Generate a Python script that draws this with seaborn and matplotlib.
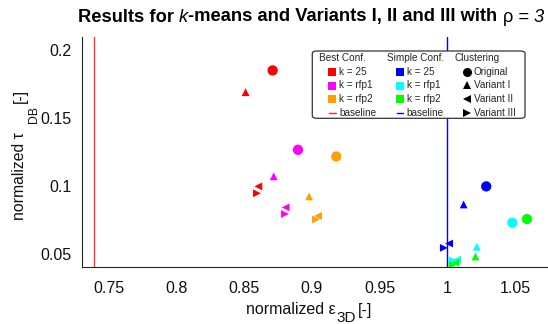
import numpy as np
import pandas as pd
import matplotlib
matplotlib.use("Agg")
import matplotlib.pyplot as plt
import seaborn as sns
from matplotlib.ticker import MultipleLocator, AutoMinorLocator
from matplotlib.patches import FancyBboxPatch, Rectangle
from matplotlib.lines import Line2D
from matplotlib.font_manager import FontProperties

# ---- data -------------------------------------------------------------
variants = ["Original", "Variant I", "Variant II", "Variant III"]
variant_markers = ["o", "^", "<", ">"]

configs = ["Best k = 25", "Best k = rfp1", "Best k = rfp2",
           "Simple k = 25", "Simple k = rfp1", "Simple k = rfp2"]
config_colors = ["#ff0000", "#ff00ff", "#ffa000",
                 "#0000ff", "#00ffff", "#00ff00"]

# normalized epsilon_3D (x) and tau_DB (y), ordered like `variants`
eps_best_k25 = [0.871, 0.851, 0.8604, 0.8594]
tau_best_k25 = [0.185, 0.169, 0.0996, 0.0945]
eps_best_rfp1 = [0.8897, 0.8718, 0.8806, 0.8801]
tau_best_rfp1 = [0.1265, 0.107, 0.0841, 0.0792]
eps_best_rfp2 = [0.918, 0.8979, 0.9045, 0.903]
tau_best_rfp2 = [0.1216, 0.0922, 0.0778, 0.0752]
eps_simple_k25 = [1.0287, 1.012, 1.0013, 0.9974]
tau_simple_k25 = [0.0996, 0.0863, 0.0575, 0.0543]
eps_simple_rfp1 = [1.048, 1.0218, 1.0072, 1.0038]
tau_simple_rfp1 = [0.0728, 0.0551, 0.0456, 0.0451]
eps_simple_rfp2 = [1.0588, 1.0208, 1.006, 1.0038]
tau_simple_rfp2 = [0.0755, 0.0479, 0.0434, 0.0417]

baseline_best = 0.739
baseline_simple = 1.0

eps_all = [eps_best_k25, eps_best_rfp1, eps_best_rfp2,
           eps_simple_k25, eps_simple_rfp1, eps_simple_rfp2]
tau_all = [tau_best_k25, tau_best_rfp1, tau_best_rfp2,
           tau_simple_k25, tau_simple_rfp1, tau_simple_rfp2]

rows = []
for cfg, ex, ty in zip(configs, eps_all, tau_all):
    for v, e, t in zip(variants, ex, ty):
        rows.append({"config": cfg, "variant": v, "eps": e, "tau": t})
df = pd.DataFrame(rows)

# ---- style ------------------------------------------------------------
sns.set_style("white")
FAMILY = ["Liberation Sans", "DejaVu Sans"]
plt.rcParams["font.family"] = FAMILY

W, H = 548, 324
fig = plt.figure(figsize=(W / 100, H / 100), dpi=100)
ax_l, ax_b, ax_t = 81.7, 267.3, 36.5
ax = fig.add_axes([ax_l / W, 1 - ax_b / H, 1 - ax_l / W, (ax_b - ax_t) / H])

palette = dict(zip(configs, config_colors))
marker_sizes = {"o": 55, "^": 32, "<": 32, ">": 32}

ax.axvline(baseline_best, color="#ff3030", lw=1.0, zorder=1)
ax.axvline(baseline_simple, color="#0000ff", lw=1.0, zorder=1)

for v, m in zip(variants, variant_markers):
    sub = df[df["variant"] == v]
    sns.scatterplot(data=sub, x="eps", y="tau", hue="config", palette=palette,
                    marker=m, s=marker_sizes[m], linewidth=0, legend=False,
                    ax=ax, zorder=3)

ax.set_xlim(0.73, 1.0743)
ax.set_ylim(0.04, 0.21)
ax.xaxis.set_major_locator(MultipleLocator(0.05))
ax.yaxis.set_major_locator(MultipleLocator(0.05))
ax.xaxis.set_minor_locator(AutoMinorLocator(4))
ax.yaxis.set_minor_locator(AutoMinorLocator(4))
ax.xaxis.set_major_formatter(plt.FuncFormatter(lambda v, p: f"{v:g}"))
ax.yaxis.set_major_formatter(plt.FuncFormatter(lambda v, p: f"{v:g}"))

for s in ("top", "right"):
    ax.spines[s].set_visible(False)
for s in ("left", "bottom"):
    ax.spines[s].set_color("#262626")
    ax.spines[s].set_linewidth(0.8)

ax.tick_params(which="major", direction="in", length=4, width=0.7,
               color="#262626", labelsize=11.5, labelcolor="#111111")
ax.tick_params(which="minor", direction="in", length=2.2, width=0.6,
               color="#262626")
ax.tick_params(axis="x", which="major", pad=10)
ax.tick_params(axis="y", which="major", pad=7)
ax.set_xlabel("")
ax.set_ylabel("")

# ---- composed texts (subscripts at chosen sizes) ----------------------
renderer = fig.canvas.get_renderer()


def piece_width(s, size, weight="normal", style="normal"):
    prop = FontProperties(family=FAMILY, size=size, weight=weight, style=style)
    w_all = renderer.get_text_width_height_descent("|" + s + "|", prop, ismath=False)[0]
    w_bar = renderer.get_text_width_height_descent("||", prop, ismath=False)[0]
    return w_all - w_bar


def put(s, x, y, size, weight="normal", style="normal", vertical=False,
        color="#111111"):
    """Draw a text piece with its start/baseline at pixel (x, y) from top-left."""
    kw = dict(ha="left", va="baseline", fontsize=size, fontweight=weight,
              fontstyle=style, color=color)
    if vertical:
        kw.update(rotation=90, rotation_mode="anchor")
    fig.text(x / W, 1 - y / H, s, **kw)


def put_row(pieces, center, baseline, gap=0.0, color="#111111"):
    """Lay pieces (text, size, weight, style, drop) left to right, centred."""
    widths = [piece_width(s, sz, w, st) for s, sz, w, st, _ in pieces]
    x = center - (sum(widths) + gap * (len(pieces) - 1)) / 2
    for (s, sz, w, st, drop), wd in zip(pieces, widths):
        put(s, x, baseline + drop, sz, w, st, color=color)
        x += wd + gap


# title: bold text with italic k, upright rho and italic "= 3"
title_size = 13.2
put_row([
    ("Results for ", title_size, "bold", "normal", 0),
    ("k", title_size, "normal", "italic", 0),
    ("-means and Variants I, II and III with ", title_size, "bold", "normal", 0),
    ("\u03c1", title_size, "normal", "normal", 0),
    (" = 3", title_size, "normal", "italic", 0),
], center=311, baseline=21.5, color="#000000")

# x label: normalized eps_3D [-]
put_row([
    ("normalized \u03b5", 11.5, "normal", "normal", 0),
    ("3D", 11.0, "normal", "normal", 8.0),
    ("[-]", 11.5, "normal", "normal", 0),
], center=309, baseline=314.5, gap=1.0)

# y label: normalized tau_DB [-]
put("normalized \u03c4", 24.5, 220.0, 11.3, vertical=True)
put("DB", 37.5, 123.0, 8.8, vertical=True)
put("[-]", 24.5, 103.0, 11.3, vertical=True)

# ---- legend box -------------------------------------------------------
def fx(px):
    return px / W


def fy(py):
    return 1 - py / H


box = FancyBboxPatch((fx(312.3), fy(118.3)), fx(525) - fx(312.3),
                     fy(51) - fy(118.3), boxstyle="round,pad=0,rounding_size=0.008",
                     transform=fig.transFigure, facecolor="white",
                     edgecolor="#333333", lw=0.9, zorder=10)
fig.add_artist(box)

leg_fs = 7.2
header_y = 57.7
row_y = [72.3, 85.5, 99.0, 112.7]
headers = [("Best Conf.", 318.7), ("Simple Conf.", 386.7), ("Clustering", 454.3)]
for txt, x0 in headers:
    fig.text(fx(x0), fy(header_y), txt, ha="left", va="center",
             fontsize=leg_fs, zorder=11)

cfg_labels = ["k = 25", "k = rfp1", "k = rfp2"]
for col, (patch_x, text_x, base_color) in enumerate(
        [(327.7, 339.0, "#ff3030"), (395.5, 406.7, "#0000ff")]):
    for r in range(3):
        c = config_colors[col * 3 + r]
        yc = row_y[r]
        fig.add_artist(Rectangle((fx(patch_x), fy(yc + 4)), fx(8.3), 8 / H,
                                 transform=fig.transFigure, facecolor=c,
                                 edgecolor="none", zorder=11))
        fig.text(fx(text_x), fy(yc), cfg_labels[r], ha="left", va="center",
                 fontsize=leg_fs, zorder=11)
    yc = row_y[3]
    fig.add_artist(Line2D([fx(patch_x + 1.5), fx(patch_x + 8)], [fy(yc), fy(yc)],
                          transform=fig.transFigure, color=base_color, lw=1.0,
                          zorder=11))
    fig.text(fx(text_x), fy(yc), "baseline", ha="left", va="center",
             fontsize=leg_fs, zorder=11)

legend_marker_size = {"o": 6.5, "^": 5.5, "<": 5.5, ">": 5.5}
for r, (v, m) in enumerate(zip(variants, variant_markers)):
    yc = row_y[r]
    fig.add_artist(Line2D([fx(466.7)], [fy(yc)], transform=fig.transFigure,
                          marker=m, markersize=legend_marker_size[m],
                          color="black", markeredgewidth=0, linestyle="none",
                          zorder=11))
    fig.text(fx(474.0), fy(yc), v, ha="left", va="center", fontsize=leg_fs,
             zorder=11)

fig.savefig("out.png", dpi=100)
